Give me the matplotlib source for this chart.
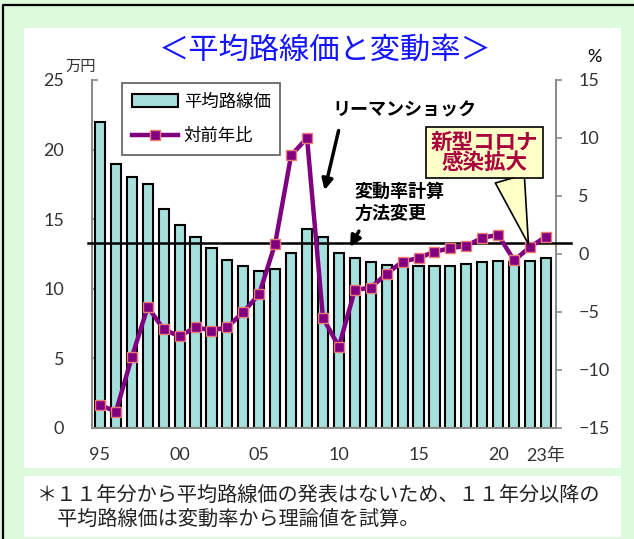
import matplotlib
matplotlib.use('Agg')
import matplotlib.pyplot as plt
from matplotlib.patches import Rectangle, Patch
from matplotlib.lines import Line2D

# ---------------- data ----------------
years = list(range(1995, 2024))
avg_price = [22.0, 19.0, 18.0, 17.5, 15.7, 14.6, 13.7, 12.9, 12.1, 11.65,
             11.3, 11.4, 12.6, 14.3, 13.7, 12.6, 12.2, 11.9, 11.7, 11.65,
             11.65, 11.65, 11.65, 11.75, 11.9, 12.0, 11.9, 12.0, 12.2]
yoy_change = [-13.0, -13.6, -8.9, -4.55, -6.5, -7.1, -6.3, -6.6, -6.3, -5.0,
              -3.45, 0.9, 8.5, 10.0, -5.5, -8.0, -3.1, -2.9, -1.7, -0.65,
              -0.35, 0.2, 0.5, 0.7, 1.4, 1.65, -0.55, 0.6, 1.5]
xtick_years = [1995, 2000, 2005, 2010, 2015, 2020, 2023]
xtick_labels = ['95', '00', '05', '10', '15', '20', '23年']
left_ticks = [0, 5, 10, 15, 20, 25]
right_ticks = [-15, -10, -5, 0, 5, 10, 15]
ref_level = 0.95

title = '＜平均路線価と変動率＞'
legend_labels = ['平均路線価', '対前年比']
note_lines = ['＊１１年分から平均路線価の発表はないため、１１年分以降の',
              '　平均路線価は変動率から理論値を試算。']

JP = ['Noto Sans CJK JP', 'DejaVu Sans']
NUM = ['Lato', 'Noto Sans CJK JP', 'DejaVu Sans']
plt.rcParams['font.family'] = JP

W, H = 634, 539
fig = plt.figure(figsize=(W / 100, H / 100), dpi=100)
fig.patch.set_facecolor('#ddfadd')

def fx(px):
    return px / W

def fy(py):
    return 1 - py / H

# white panels and outer border
fig.patches.append(Rectangle((fx(24), fy(468)), fx(621) - fx(24), fy(28) - fy(468),
                             transform=fig.transFigure, fc='white', ec='none', zorder=-5))
fig.patches.append(Rectangle((fx(24), fy(537)), fx(621) - fx(24), fy(476) - fy(537),
                             transform=fig.transFigure, fc='white', ec='none', zorder=-5))
fig.add_artist(Line2D([fx(3), fx(3), fx(640)], [fy(545), fy(5), fy(5)],
                      transform=fig.transFigure, color='black', lw=1.6))

ax = fig.add_axes([fx(92), fy(428), fx(556) - fx(92), fy(80) - fy(428)])
ax.set_facecolor('none')
ax2 = ax.twinx()

bar_color = '#a6e0dc'
ax.bar(years, avg_price, width=0.64, color=bar_color, edgecolor='black', linewidth=1.5, zorder=2)
ax.set_ylim(0, 25)
ax.set_xlim(1994.5, 2023.63)
ax.set_yticks(left_ticks)
ax.set_xticks(xtick_years)
ax.set_xticklabels(xtick_labels)

axis_gray = '#8a8a8a'
for a in (ax, ax2):
    a.spines['top'].set_visible(False)
    for s in ('left', 'right', 'bottom'):
        a.spines[s].set_color(axis_gray)
        a.spines[s].set_linewidth(1.3)

ax.tick_params(axis='y', direction='in', length=4, color=axis_gray, width=1.2,
               labelsize=13, pad=20, labelcolor='#333333')
ax.tick_params(axis='x', length=0, labelsize=13, pad=14, labelcolor='#333333')
for lab in ax.get_xticklabels() + ax.get_yticklabels():
    lab.set_family(NUM)

line_color = '#800080'
ax2.plot(years, yoy_change, color=line_color, lw=3.2, marker='s', ms=7.5,
         mfc=line_color, mec='#ec7c78', mew=1.0, zorder=4)
ax2.set_ylim(-15, 15)
ax2.set_yticks(right_ticks)
ax2.tick_params(axis='y', direction='out', length=4, color=axis_gray, width=1.2,
                labelsize=13, pad=12, labelcolor='#333333')
for lab in ax2.get_yticklabels():
    lab.set_family(NUM)

# reference line extending slightly beyond the axes
ax2.plot([1994.25, 2024.55], [ref_level, ref_level], color='black', lw=1.8,
         clip_on=False, zorder=3)

# unit labels
fig.text(fx(81), fy(66), '万円', fontsize=11, ha='center', va='center', color='#333333')
fig.text(fx(594), fy(57), '%', fontsize=13, ha='center', va='center', color='black',
         family=NUM)

# title
fig.text(fx(325), fy(50), title, fontsize=21.8, ha='center', va='center', color='#1414ff')

# legend
handles = [Patch(fc=bar_color, ec='black', lw=1.5),
           Line2D([], [], color=line_color, lw=3.2, marker='s', ms=7.5,
                  mfc=line_color, mec='#ec7c78', mew=1.0)]
leg = ax2.legend(handles, legend_labels, loc='upper left',
                 bbox_to_anchor=(fx(122), fy(83)), bbox_transform=fig.transFigure,
                 fontsize=12.5, frameon=True, fancybox=False, edgecolor='#333333',
                 handlelength=2.7, handletextpad=0.3, borderpad=0.55, labelspacing=0.95,
                 borderaxespad=0)
leg.get_frame().set_linewidth(1.2)
leg.set_zorder(6)

# annotations
ax2.annotate('リーマンショック', xy=(2009.1, 5.5), xytext=(2009.6, 12.4),
             fontsize=13, fontweight='bold', ha='left', va='center',
             arrowprops=dict(arrowstyle='-|>', color='black', lw=2.5,
                             mutation_scale=16, relpos=(0.06, 0.0), shrinkA=6, shrinkB=0))
ax2.annotate('変動率計算\n方法変更', xy=(2010.7, 0.6), xytext=(2011.0, 6.2),
             fontsize=13, fontweight='bold', ha='left', va='top', linespacing=1.15,
             arrowprops=dict(arrowstyle='-|>', color='black', lw=2.5,
                             mutation_scale=16, relpos=(0.1, 0.0), shrinkA=5, shrinkB=0))
ax2.annotate('新型コロナ\n感染拡大', xy=(2021.9, 0.85), xytext=(2019.15, 8.75),
             fontsize=15.5, fontweight='bold', ha='center', va='center', color='#a8003c',
             linespacing=1.0, zorder=7,
             bbox=dict(boxstyle='square,pad=0.22', fc='#ffffc8', ec='black', lw=1.2),
             arrowprops=dict(arrowstyle='wedge,tail_width=1.4', fc='#ffffc8', ec='black',
                             lw=1.2, relpos=(0.72, 0.0), shrinkA=0, shrinkB=0))

# footnote
fig.text(fx(37), fy(495), note_lines[0], fontsize=14.5, ha='left', va='center', color='#222222')
fig.text(fx(37), fy(519), note_lines[1], fontsize=14.5, ha='left', va='center', color='#222222')

fig.savefig('out.png', dpi=100, facecolor=fig.get_facecolor())
